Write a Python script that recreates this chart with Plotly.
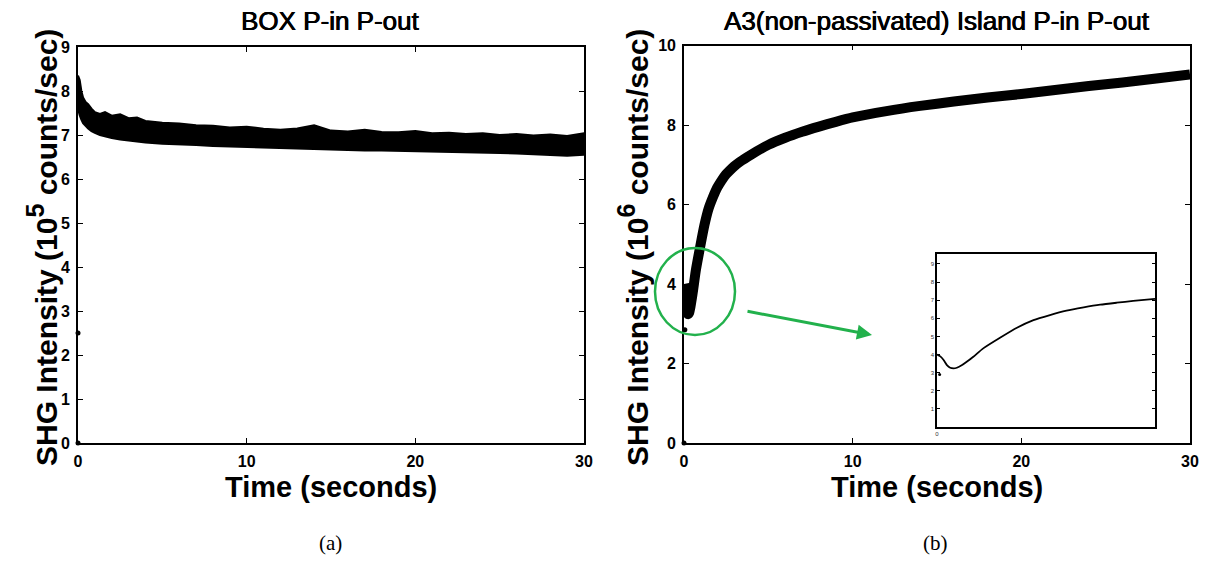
import plotly.graph_objects as go

W, H = 1216, 564

# ---- BOX P-in P-out (10^5 counts/sec): upper / lower edge of the noisy trace ----
box_t = [0.0, 0.1, 0.2, 0.3, 0.45, 0.6, 0.8, 1.0, 1.3, 1.6, 2.0, 2.5, 3.0, 3.5,
         4.0, 5.0, 6.0, 7.0, 8.0, 9.0, 10.0, 11.0, 12.0, 13.0, 14.0, 15.0, 16.0,
         17.0, 18.0, 19.0, 20.0, 21.0, 22.0, 23.0, 24.0, 25.0, 26.0, 27.0, 28.0,
         29.0, 30.0]
box_hi = [8.35, 8.25, 8.0, 7.85, 7.75, 7.7, 7.6, 7.52, 7.48, 7.52, 7.44, 7.47, 7.38,
          7.4, 7.32, 7.28, 7.26, 7.22, 7.21, 7.17, 7.19, 7.14, 7.12, 7.15, 7.22, 7.1,
          7.08, 7.12, 7.07, 7.06, 7.09, 7.04, 7.05, 7.02, 7.04, 7.0, 7.02, 6.99, 7.01,
          6.98, 7.04]
box_lo = [7.6, 7.45, 7.35, 7.27, 7.2, 7.15, 7.09, 7.05, 7.0, 6.97, 6.93, 6.9, 6.88,
          6.85, 6.83, 6.8, 6.78, 6.77, 6.75, 6.73, 6.73, 6.71, 6.7, 6.69, 6.68, 6.67,
          6.66, 6.65, 6.65, 6.64, 6.63, 6.62, 6.61, 6.61, 6.6, 6.59, 6.58, 6.57, 6.55,
          6.53, 6.55]
box_stray_t = [0.0, 0.0]
box_stray_v = [0.0, 2.5]

# ---- A3 (non-passivated) island P-in P-out (10^6 counts/sec) ----
a3_t = [0.0, 0.05, 0.1, 0.15, 0.2, 0.25, 0.3, 0.38, 0.45, 0.55, 0.7, 0.96, 1.21,
        1.46, 1.71, 1.96, 2.22, 2.47, 2.72, 2.97, 3.3, 4.0, 5.0, 6.0, 7.0, 8.0, 9.0,
        10.0, 12.0, 14.0, 16.0, 18.0, 20.0, 22.0, 24.0, 26.0, 28.0, 30.0]
a3_v = [4.0, 3.9, 3.7, 3.42, 3.27, 3.24, 3.27, 3.42, 3.6, 3.88, 4.34, 4.94, 5.48,
        5.9, 6.18, 6.42, 6.6, 6.75, 6.86, 6.96, 7.07, 7.26, 7.5, 7.68, 7.83, 7.96,
        8.08, 8.19, 8.35, 8.48, 8.59, 8.69, 8.78, 8.88, 8.98, 9.07, 9.17, 9.27]
a3_stray_t = [0.0, 0.05]
a3_stray_v = [0.0, 2.85]
inset_end = 3.3  # the inset shows the first seconds of the same run

FONT = "Liberation Sans, Arial, sans-serif"
GREEN = "#22b14c"


def fx(x):
    return x / W


def fy(y):
    return 1 - y / H


def frame(**kw):
    d = dict(showline=True, linecolor="black", linewidth=1.6, mirror="ticks",
             ticks="inside", ticklen=5, tickwidth=1.3, tickcolor="black",
             showgrid=False, zeroline=False, automargin=False,
             tickfont=dict(family=FONT, size=16, color="black", weight="bold"))
    d.update(kw)
    return d


fig = go.Figure()

# left panel: band between the edges of the noisy signal
fig.add_trace(go.Scatter(
    x=box_t + box_t[::-1], y=box_hi + box_lo[::-1], fill="toself",
    fillcolor="black", line=dict(color="black", width=2), mode="lines",
    xaxis="x", yaxis="y", hoverinfo="skip"))
fig.add_trace(go.Scatter(
    x=box_stray_t, y=box_stray_v, mode="markers", cliponaxis=False,
    marker=dict(color="black", size=5), xaxis="x", yaxis="y"))

# right panel: thick trace
fig.add_trace(go.Scatter(
    x=a3_t, y=a3_v, mode="lines", line=dict(color="black", width=10, shape="spline",
                                            smoothing=0.6),
    xaxis="x2", yaxis="y2"))
fig.add_trace(go.Scatter(
    x=a3_stray_t, y=a3_stray_v, mode="markers", cliponaxis=False,
    marker=dict(color="black", size=5), xaxis="x2", yaxis="y2"))

# inset: early part of the same run
ins_t = [t for t in a3_t if t <= inset_end]
ins_v = [v for t, v in zip(a3_t, a3_v) if t <= inset_end]
fig.add_trace(go.Scatter(
    x=ins_t, y=ins_v, mode="lines",
    line=dict(color="black", width=1.8, shape="spline", smoothing=0.6),
    xaxis="x3", yaxis="y3"))
fig.add_trace(go.Scatter(
    x=[0.04], y=[2.9], mode="markers", marker=dict(color="black", size=3),
    xaxis="x3", yaxis="y3"))

L = [78, 584]
R = [684, 1190]
fig.update_layout(
    width=W, height=H, margin=dict(l=0, r=0, t=0, b=0), autosize=False,
    paper_bgcolor="white", plot_bgcolor="white", showlegend=False,
    xaxis=frame(domain=[fx(L[0]), fx(L[1])], range=[0, 30], tickvals=[0, 10, 20, 30],
                anchor="y", ticklabelstandoff=3),
    yaxis=frame(domain=[fy(443), fy(47)], range=[0, 9], tickvals=list(range(10)),
                anchor="x", ticklabelstandoff=3),
    xaxis2=frame(domain=[fx(R[0]), fx(R[1])], range=[0, 30], tickvals=[0, 10, 20, 30],
                 anchor="y2", ticklabelstandoff=3),
    yaxis2=frame(domain=[fy(443), fy(45.5)], range=[0, 10], tickvals=[0, 2, 4, 6, 8, 10],
                 anchor="x2", ticklabelstandoff=3),
    xaxis3=frame(domain=[fx(937), fx(1155)], range=[0, inset_end], tickvals=[0],
                 ticklen=0, linewidth=1.5, anchor="y3",
                 tickfont=dict(family=FONT, size=6, color="#333")),
    yaxis3=frame(domain=[fy(427), fy(254)], range=[0, 9.55], tickvals=list(range(1, 10)),
                 ticklen=3, tickwidth=1, linewidth=1.5, anchor="x3",
                 tickfont=dict(family=FONT, size=6, color="#333")),
)

TITLE_FONT = dict(family=FONT, size=26, color="black",
                  shadow="0.5px 0px 0px black, -0.3px 0px 0px black")
ann = []
# panel titles
ann.append(dict(text="BOX P-in P-out", x=fx(330), y=fy(21), xref="paper", yref="paper",
                showarrow=False, font=TITLE_FONT, xanchor="center", yanchor="middle"))
ann.append(dict(text="A3(non-passivated) Island P-in P-out", x=fx(937), y=fy(21),
                xref="paper", yref="paper", showarrow=False, font=TITLE_FONT,
                xanchor="center", yanchor="middle"))
# axis titles
for cx in (331, 937):
    ann.append(dict(text="Time (seconds)", x=fx(cx), y=fy(487), xref="paper", yref="paper",
                    showarrow=False,
                    font=dict(family=FONT, size=29, color="black", weight="bold"),
                    xanchor="center", yanchor="middle"))
for cx, p in ((42, "5"), (633, "6")):
    ann.append(dict(text="SHG Intensity (10<sup><span style='font-size:25px'>%s</span></sup> counts/sec)" % p,
                    x=fx(cx), y=fy(248), xref="paper", yref="paper", textangle=-90,
                    showarrow=False,
                    font=dict(family=FONT, size=30, color="black", weight="bold"),
                    xanchor="center", yanchor="middle"))
# panel letters
for cx, s in ((330, "(a)"), (935, "(b)")):
    ann.append(dict(text=s, x=fx(cx), y=fy(543), xref="paper", yref="paper",
                    showarrow=False,
                    font=dict(family="Liberation Serif, Times New Roman, serif",
                              size=21, color="black"),
                    xanchor="center", yanchor="middle"))
# green arrow from the highlighted region towards the inset
ann.append(dict(text="", x=fx(872), y=fy(335), xref="paper", yref="paper",
                ax=746 - 872, ay=311 - 335, showarrow=True, arrowhead=2,
                arrowsize=1, arrowwidth=3, arrowcolor=GREEN))
fig.update_layout(annotations=ann)

fig.add_shape(type="circle", xref="paper", yref="paper",
              x0=fx(655), x1=fx(735), y0=fy(335), y1=fy(248),
              line=dict(color=GREEN, width=2.5))

fig.write_html("out.html",
               post_script="document.body.style.margin='0';"
                           "document.body.style.overflow='hidden';")
